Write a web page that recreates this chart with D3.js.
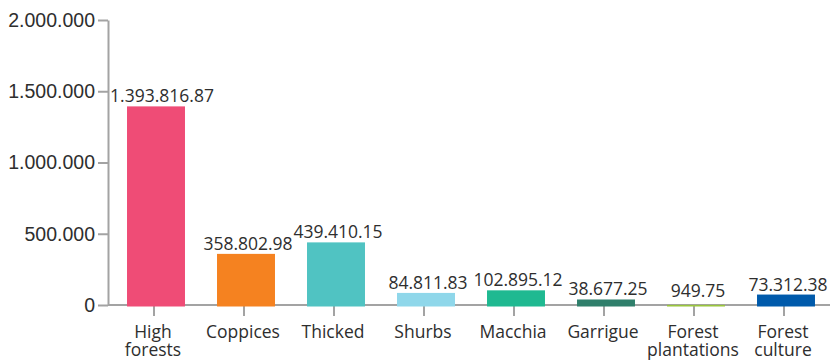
<!DOCTYPE html>
<html>
<head>
<meta charset="utf-8">
<script src="https://cdn.jsdelivr.net/npm/d3@7"></script>
<style>
  html, body { margin: 0; padding: 0; background: #fff; }
  svg { display: block; font-family: "Open Sans", sans-serif; }
  .axis path, .axis line { stroke: #a3a3a3; stroke-width: 2px; }
  .axis text { fill: #2e2e2e; font-size: 19.5px; }
  .value { fill: #2e2e2e; font-size: 17.5px; text-anchor: middle; }
  .cat { fill: #2e2e2e; font-size: 17.5px; text-anchor: middle; }
</style>
</head>
<body>
<svg id="chart" width="830" height="362"></svg>
<script>
// Forest area by type
const categories = ["High forests", "Coppices", "Thicked", "Shurbs", "Macchia", "Garrigue", "Forest plantations", "Forest culture"];
const categoryLines = [["High", "forests"], ["Coppices"], ["Thicked"], ["Shurbs"], ["Macchia"], ["Garrigue"], ["Forest", "plantations"], ["Forest", "culture"]];
const areas = [1393816.87, 358802.98, 439410.15, 84811.83, 102895.12, 38677.25, 949.75, 73312.38];
const barColors = ["#ef4c76", "#f58220", "#50c3c2", "#8fd7ea", "#1fb991", "#2f7f6b", "#9ac53d", "#005aab"];
const yTicks = [0, 500000, 1000000, 1500000, 2000000];

const svg = d3.select("#chart");
const W = 830, H = 362;
const axisX = 108, baseY = 305, topY = 20;

const locale = d3.formatLocale({ decimal: ".", thousands: ".", grouping: [3], currency: ["", ""] });
const tickFmt = locale.format(",.0f");
const valueFmt = locale.format(",.2f");

const y = d3.scaleLinear().domain([0, 2000000]).range([baseY, topY]);
const x = d3.scaleBand().domain(categories).range([111, 831]).paddingInner(0.356).paddingOuter(0.178);
const mid = d => x(d) + x.bandwidth() / 2;

// y axis
svg.append("g")
  .attr("class", "axis")
  .attr("transform", `translate(${axisX},0)`)
  .call(d3.axisLeft(y).tickValues(yTicks).tickFormat(tickFmt).tickSize(10).tickSizeOuter(0).tickPadding(3));

// x baseline and ticks
const xAxis = svg.append("g").attr("class", "axis");
xAxis.append("line")
  .attr("x1", axisX).attr("x2", W)
  .attr("y1", baseY).attr("y2", baseY);
xAxis.selectAll("line.tick")
  .data(categories)
  .join("line")
  .attr("class", "tick")
  .attr("x1", d => mid(d) - 2)
  .attr("x2", d => mid(d) - 2)
  .attr("y1", baseY)
  .attr("y2", baseY + 11);

// bars
svg.append("g")
  .selectAll("rect")
  .data(categories)
  .join("rect")
  .attr("x", d => x(d))
  .attr("width", x.bandwidth())
  .attr("y", (d, i) => y(areas[i]))
  .attr("height", (d, i) => y(0) - y(areas[i]) + 1.5)
  .attr("fill", (d, i) => barColors[i]);

// value labels
svg.append("g")
  .selectAll("text")
  .data(categories)
  .join("text")
  .attr("class", "value")
  .attr("x", (d, i) => mid(d) + (i === 0 ? 6 : 2))
  .attr("y", (d, i) => Math.min(y(areas[i]) - 4, baseY - 8))
  .text((d, i) => valueFmt(areas[i]));

// category labels, one text element per line
const catLines = categories.flatMap((c, i) => categoryLines[i].map((t, j) => ({ c, t, j })));
svg.append("g")
  .selectAll("text")
  .data(catLines)
  .join("text")
  .attr("class", "cat")
  .attr("x", d => mid(d.c) - 3)
  .attr("y", d => 338 + d.j * 18)
  .text(d => d.t);
</script>
</body>
</html>
